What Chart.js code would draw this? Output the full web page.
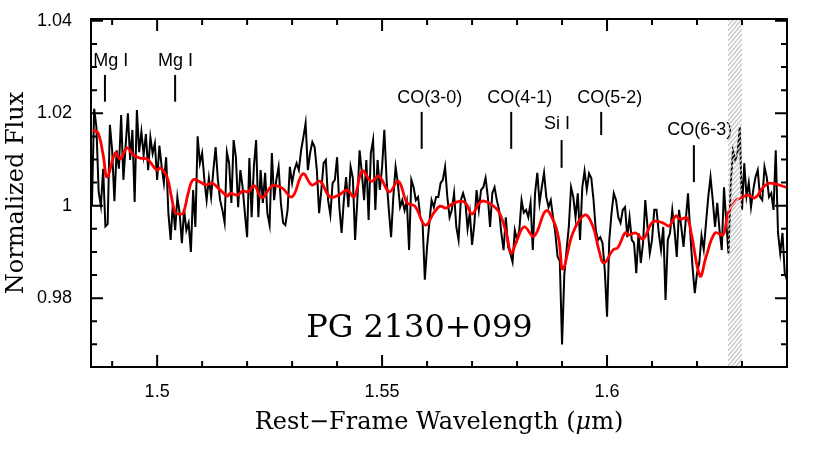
<!DOCTYPE html>
<html>
<head>
<meta charset="utf-8">
<script src="https://cdn.jsdelivr.net/npm/chart.js@4.4.1/dist/chart.umd.min.js"></script>
<style>
  body { margin: 0; background: #fff; }
  #wrap { width: 830px; height: 449px; }
</style>
</head>
<body>
<div id="wrap"><canvas id="spec"></canvas></div>
<script>
// observed spectrum, one value every 0.0005 um starting at 1.4855 um
const specStart = 1.4855;
const specStep = 0.0005;
const specFlux = [
  1.0000, 1.0210, 1.0170, 1.0030, 1.0000, 1.0080, 0.9955, 0.9960, 1.0175, 1.0120,
  1.0010, 1.0120, 1.0080, 1.0196, 1.0056, 1.0130, 1.0200, 1.0099, 1.0164, 1.0008,
  1.0207, 1.0116, 1.0160, 1.0110, 1.0155, 1.0077, 1.0148, 1.0113, 1.0135, 1.0056,
  1.0130, 1.0085, 1.0049, 1.0105, 0.9984, 0.9926, 1.0006, 0.9947, 1.0019, 0.9984,
  0.9919, 0.9991, 0.9947, 0.9963, 0.9900, 1.0034, 0.9954, 1.0150, 1.0092, 1.0114,
  1.0056, 1.0012,
  1.0060, 1.0019, 1.0077, 1.0127, 1.0056, 1.0012, 0.9991, 0.9963, 1.0116, 1.0092,
  1.0006, 1.0142, 1.0105, 0.9997, 1.0077, 1.0040, 0.9984, 0.9932, 1.0103, 0.9975,
  1.0084, 1.0142, 0.9975, 1.0077, 1.0006, 1.0071, 0.9984, 0.9958, 1.0114, 1.0012,
  1.0056, 1.0084, 1.0006, 0.9963, 0.9958, 0.9991, 1.0084, 1.0049, 1.0077, 1.0092,
  1.0077, 1.0120, 1.0148, 1.0179, 1.0077, 1.0114, 1.0138, 1.0127, 1.0077, 0.9984,
  1.0034, 1.0092,
  1.0099, 1.0012, 0.9980, 1.0049, 1.0056, 1.0105, 0.9997, 0.9941, 1.0012, 1.0062,
  0.9997, 1.0084, 1.0060, 0.9926, 1.0012, 1.0120, 1.0071, 1.0012, 1.0099, 0.9969,
  1.0114, 1.0142, 0.9991, 1.0099, 1.0034, 1.0084, 1.0164, 1.0056, 0.9991, 0.9932,
  1.0019, 1.0084, 1.0049, 0.9997, 1.0012, 0.9990, 1.0010, 0.9904, 1.0056, 1.0040,
  1.0012, 1.0019, 0.9975, 0.9963, 0.9840, 0.9911, 0.9963, 1.0012, 0.9997, 1.0019,
  1.0019, 1.0049,
  1.0056, 1.0084, 1.0019, 0.9975, 0.9991, 1.0027, 0.9954, 0.9926, 1.0012, 1.0027,
  1.0010, 0.9950, 0.9985, 0.9915, 0.9960, 1.0034, 0.9991, 1.0034, 1.0040, 1.0060,
  1.0019, 0.9954, 1.0027, 1.0040, 1.0012, 0.9991, 0.9941, 0.9904, 0.9975, 0.9911,
  0.9897, 0.9878, 0.9947, 0.9926, 0.9947, 1.0012, 0.9985, 0.9991, 0.9975, 1.0006,
  0.9904, 1.0027, 1.0071, 1.0006, 1.0040, 1.0071, 1.0019, 0.9997, 1.0012, 0.9975,
  0.9941, 0.9890,
  0.9880, 0.9700, 0.9850, 0.9904, 0.9954, 1.0040, 1.0019, 0.9975, 1.0027, 0.9926,
  1.0040, 1.0075, 1.0035, 1.0070, 1.0060, 1.0012, 0.9947, 0.9926, 0.9932, 0.9919,
  0.9860, 0.9760, 0.9926, 0.9984, 1.0027, 1.0012, 0.9975, 0.9963, 0.9991, 0.9997,
  0.9932, 0.9975, 0.9926, 0.9919, 0.9854, 0.9941, 0.9876, 0.9919, 1.0012, 0.9954,
  0.9897, 0.9926, 0.9991, 0.9991, 0.9941, 0.9904, 0.9954, 0.9796, 0.9926, 0.9941,
  0.9991, 0.9947,
  0.9889, 0.9991, 0.9954, 0.9911, 0.9969, 1.0027, 0.9941, 0.9867, 0.9811, 0.9854,
  0.9876, 0.9935, 0.9905, 0.9963, 1.0019, 1.0062, 1.0012, 0.9954, 1.0006, 0.9947,
  0.9904, 1.0040, 0.9963, 0.9897, 1.0049, 1.0120, 1.0099, 1.0114, 1.0170, 0.9991,
  1.0092, 1.0020, 1.0050, 0.9997, 1.0034, 1.0062, 1.0077, 1.0019, 1.0012, 1.0084,
  1.0062, 1.0019, 1.0027, 0.9991, 1.0120, 0.9941, 0.9897, 0.9941, 0.9854, 0.9839
];

// smoothed template fit (red)
const modelWave = [
  1.4858, 1.4869, 1.4880, 1.4889, 1.4907, 1.4918, 1.4933, 1.4947, 1.4962, 1.4978,
  1.4991, 1.5000, 1.5007, 1.5022, 1.5031, 1.5040, 1.5049, 1.5058, 1.5069, 1.5080,
  1.5096, 1.5109, 1.5122, 1.5136, 1.5156, 1.5162, 1.5178, 1.5191, 1.5202, 1.5216,
  1.5233, 1.5256, 1.5278, 1.5300, 1.5324, 1.5344, 1.5362, 1.5384, 1.5404, 1.5422,
  1.5438, 1.5456, 1.5476, 1.5493, 1.5516, 1.5536, 1.5556, 1.5573, 1.5596, 1.5616,
  1.5629, 1.5642, 1.5656, 1.5676, 1.5687, 1.5700, 1.5716, 1.5727, 1.5744, 1.5760,
  1.5776, 1.5787, 1.5800, 1.5816, 1.5838, 1.5864, 1.5882, 1.5893, 1.5902, 1.5924,
  1.5951, 1.5969, 1.5982, 1.5993, 1.6013, 1.6024, 1.6040, 1.6049, 1.6064, 1.6080,
  1.6102, 1.6124, 1.6138, 1.6153, 1.6162, 1.6178, 1.6187, 1.6207, 1.6220, 1.6240,
  1.6258, 1.6269, 1.6287, 1.6302, 1.6313, 1.6329, 1.6347, 1.6362, 1.6398
];
const modelFlux = [
  1.0164, 1.0157, 1.0110, 1.0062, 1.0114, 1.0101, 1.0125, 1.0110, 1.0103, 1.0101,
  1.0086, 1.0077, 1.0082, 1.0062, 1.0023, 0.9986, 0.9982, 0.9984, 1.0027, 1.0056,
  1.0051, 1.0045, 1.0049, 1.0038, 1.0021, 1.0027, 1.0023, 1.0032, 1.0030, 1.0043,
  1.0017, 1.0043, 1.0038, 1.0019, 1.0069, 1.0045, 1.0053, 1.0019, 1.0023, 1.0034,
  1.0019, 1.0075, 1.0053, 1.0064, 1.0030, 1.0053, 1.0006, 0.9999, 0.9958, 0.9986,
  0.9999, 0.9995, 1.0004, 1.0010, 1.0004, 0.9982, 1.0006, 1.0010, 1.0002, 0.9986,
  0.9941, 0.9898, 0.9926, 0.9954, 0.9934, 0.9989, 0.9965, 0.9926, 0.9863, 0.9941,
  0.9980, 0.9954, 0.9904, 0.9876, 0.9904, 0.9909, 0.9941, 0.9937, 0.9941, 0.9928,
  0.9965, 0.9963, 0.9956, 0.9978, 0.9971, 0.9973, 0.9941, 0.9848, 0.9889, 0.9941,
  0.9937, 0.9984, 1.0012, 1.0019, 1.0023, 1.0017, 1.0040, 1.0049, 1.0040
];

// line identifications
const lineNames = ['Mg I', 'Mg I', 'CO(3-0)', 'CO(4-1)', 'Si I', 'CO(5-2)', 'CO(6-3)'];
const lineWave = [1.4884, 1.5040, 1.5588, 1.5787, 1.5899, 1.5987, 1.6193];

// masked region (hatched)
const maskRange = [1.6269, 1.6300];

const xTickLabels = [1.5, 1.55, 1.6];
const yTickLabels = [0.98, 1, 1.02, 1.04];

// where each id mark and its label sit (flux units / wavelength)
const markLayout = [
  { lo: 1.0225, hi: 1.0283, tx: 1.4897, ty: 1.0313 },
  { lo: 1.0225, hi: 1.0283, tx: 1.5041, ty: 1.0313 },
  { lo: 1.0123, hi: 1.0203, tx: 1.5606, ty: 1.0234 },
  { lo: 1.0123, hi: 1.0203, tx: 1.5806, ty: 1.0234 },
  { lo: 1.0082, hi: 1.0142, tx: 1.5889, ty: 1.0176 },
  { lo: 1.0153, hi: 1.0203, tx: 1.6006, ty: 1.0234 },
  { lo: 1.0051, hi: 1.0131, tx: 1.6206, ty: 1.0164 }
];

const serif = '"DejaVu Serif", serif';
const sans = '"Liberation Sans", Arial, sans-serif';

let specPoints = specFlux.map(function(f, i) {
    return { x: +(specStart + i * specStep).toFixed(4), y: f };
});
let modelPoints = modelWave.map(function(w, i) {
    return { x: w, y: modelFlux[i] };
});

let datasets = [
    { data: specPoints, borderColor: '#000', borderWidth: 2, pointRadius: 0, tension: 0, order: 2 },
    { data: modelPoints, borderColor: '#ff0000', borderWidth: 2.8, pointRadius: 0, tension: 0.4, order: 1 }
];
for (let k = 0; k < lineWave.length; k++) {
    datasets.push({
        data: [{ x: lineWave[k], y: markLayout[k].lo }, { x: lineWave[k], y: markLayout[k].hi }],
        borderColor: '#000', borderWidth: 2, pointRadius: 0, order: 0
    });
}

function drawHatch(chart) {
    const ctx = chart.ctx;
    const area = chart.chartArea;
    const xs = chart.scales.x;
    const xa = xs.getPixelForValue(maskRange[0]);
    const xb = xs.getPixelForValue(maskRange[1]);
    const w = xb - xa;
    ctx.save();
    ctx.beginPath();
    ctx.rect(xa, area.top, w, area.bottom - area.top);
    ctx.clip();
    ctx.strokeStyle = '#c6c6c6';
    ctx.lineWidth = 1.3;
    ctx.beginPath();
    for (let yy = area.top - 30; yy < area.bottom + 30; yy += 5) {
        ctx.moveTo(xa, yy + w * 1.2);
        ctx.lineTo(xb, yy);
    }
    ctx.stroke();
    ctx.restore();
}

const decor = {
    id: 'decor',
    afterDraw(chart) {
        const ctx = chart.ctx;
        const { left, right, top, bottom } = chart.chartArea;
        const xs = chart.scales.x;
        const ys = chart.scales.y;

        ctx.save();
        // line id labels
        ctx.fillStyle = '#000';
        ctx.font = '18px ' + sans;
        ctx.textAlign = 'center';
        ctx.textBaseline = 'middle';
        for (let k = 0; k < lineNames.length; k++) {
            ctx.fillText(lineNames[k], xs.getPixelForValue(markLayout[k].tx), ys.getPixelForValue(markLayout[k].ty));
        }

        drawHatch(chart);

        ctx.strokeStyle = '#000';
        ctx.lineWidth = 2;
        ctx.beginPath();
        // x ticks every 0.01, long ones every 0.05
        for (let k = 149; k <= 164; k++) {
            const px = xs.getPixelForValue(k / 100);
            if (px <= left + 1 || px >= right - 1) continue;
            const len = (k % 5 === 0) ? 12 : 6;
            ctx.moveTo(px, bottom); ctx.lineTo(px, bottom - len);
            ctx.moveTo(px, top); ctx.lineTo(px, top + len);
        }
        // y ticks every 0.005, long ones every 0.02
        for (let k = 193; k <= 208; k++) {
            const py = ys.getPixelForValue(k * 0.005);
            if (py <= top + 1 || py >= bottom - 1) continue;
            const len = (k % 4 === 0) ? 12 : 6;
            ctx.moveTo(left, py); ctx.lineTo(left + len, py);
            ctx.moveTo(right, py); ctx.lineTo(right - len, py);
        }
        ctx.stroke();
        ctx.strokeRect(left, top, right - left, bottom - top);

        // object name
        ctx.font = '32px ' + serif;
        ctx.textAlign = 'center';
        ctx.textBaseline = 'alphabetic';
        ctx.fillText('PG 2130+099', xs.getPixelForValue(1.5583), ys.getPixelForValue(0.9716));

        // y title
        ctx.save();
        ctx.translate(16.5, (top + bottom) / 2);
        ctx.rotate(-Math.PI / 2);
        ctx.font = '24px ' + serif;
        ctx.textBaseline = 'middle';
        ctx.fillText('Normalized Flux', 0, 0);
        ctx.restore();

        // x title, mu in italics
        const parts = [['Rest−Frame Wavelength (', ''], ['μ', 'italic '], ['m)', '']];
        let total = 0;
        for (const p of parts) {
            ctx.font = p[1] + '24px ' + serif;
            total += ctx.measureText(p[0]).width;
        }
        let cx = (left + right) / 2 - total / 2;
        ctx.textAlign = 'left';
        ctx.textBaseline = 'middle';
        for (const p of parts) {
            ctx.font = p[1] + '24px ' + serif;
            ctx.fillText(p[0], cx, 423);
            cx += ctx.measureText(p[0]).width;
        }
        ctx.restore();
    }
};

new Chart(document.getElementById('spec'), {
    type: 'line',
    data: { datasets: datasets },
    options: {
        responsive: true,
        maintainAspectRatio: false,
        animation: false,
        events: [],
        layout: { padding: { left: 0, right: 43, top: 19, bottom: 0 } },
        plugins: { legend: { display: false }, tooltip: { enabled: false } },
        scales: {
            x: {
                type: 'linear',
                min: 1.4853,
                max: 1.64,
                bounds: 'data',
                afterBuildTicks: function(s) { s.ticks = xTickLabels.map(v => ({ value: v })); },
                afterFit: function(s) {
                    s.height = 82;
                    s.paddingLeft = 0; s.paddingRight = 0;
                },
                grid: { display: false, drawTicks: false },
                border: { display: false },
                ticks: {
                    autoSkip: false, maxRotation: 0, padding: 14, color: '#000',
                    font: { family: sans, size: 18 },
                    callback: v => String(+v.toFixed(2))
                }
            },
            y: {
                type: 'linear',
                min: 0.9651,
                max: 1.0404,
                bounds: 'data',
                afterBuildTicks: function(s) { s.ticks = yTickLabels.map(v => ({ value: v })); },
                afterFit: function(s) {
                    s.width = 91;
                    s.paddingTop = 0; s.paddingBottom = 0;
                },
                grid: { display: false, drawTicks: false },
                border: { display: false },
                ticks: {
                    autoSkip: false, padding: 19, color: '#000',
                    font: { family: sans, size: 18 },
                    callback: v => String(+v.toFixed(2))
                }
            }
        }
    },
    plugins: [decor]
});
</script>
</body>
</html>
